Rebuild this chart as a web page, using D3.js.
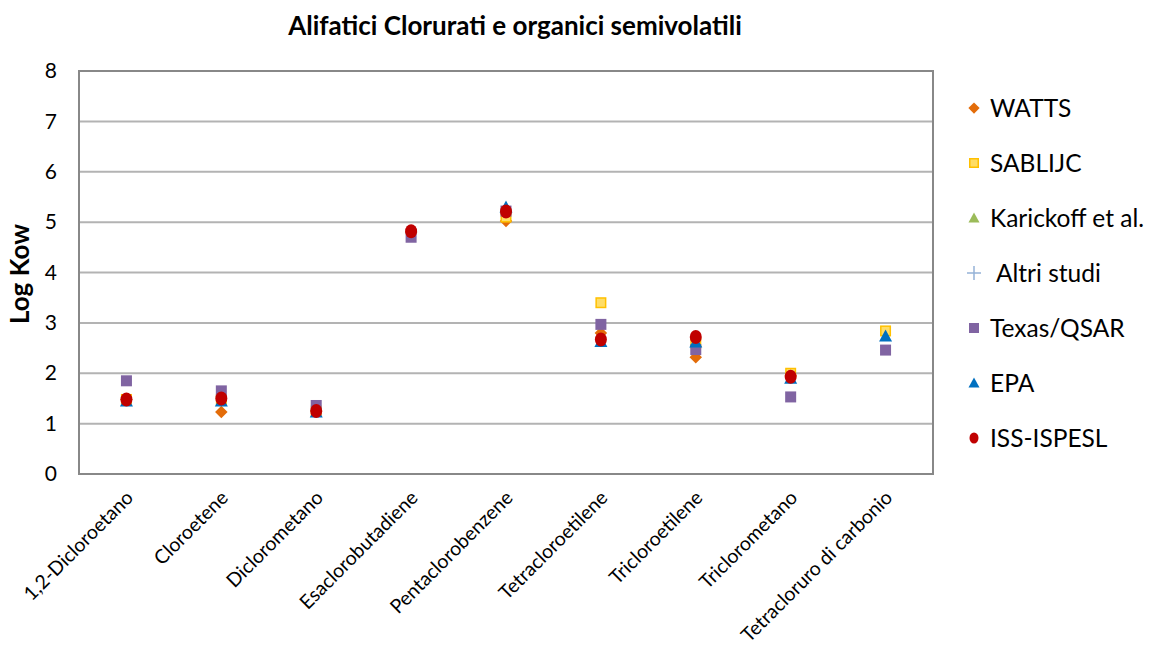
<!DOCTYPE html>
<html><head><meta charset="utf-8">
<script src="https://cdn.jsdelivr.net/npm/d3@7"></script>
<style>
body{margin:0;background:#fff;}
svg{display:block;}
</style></head>
<body><svg id="c" width="1152" height="646"></svg>
<script>
const title = "Alifatici Clorurati e organici semivolatili";
const yTitle = "Log  Kow";
const categories = ["1,2-Dicloroetano","Cloroetene","Diclorometano","Esaclorobutadiene","Pentaclorobenzene","Tetracloroetilene","Tricloroetilene","Triclorometano","Tetracloruro di carbonio"];
const yTicks = [0,1,2,3,4,5,6,7,8];
const seriesNames = ["WATTS","SABLIJC","Karickoff et al.","Altri studi","Texas/QSAR","EPA","ISS-ISPESL"];
const watts     = [1.48, 1.23, 1.25, 4.80, 5.02, 2.80, 2.32, 1.95, null];
const sablijc   = [1.48, 1.48, 1.25, null, 5.10, 3.40, 2.60, 2.00, 2.84];
const karickoff = [null, null, null, null, null, null, null, null, null];
const altri     = [null, null, null, null, null, null, null, null, null];
const texas     = [1.85, 1.65, 1.36, 4.70, 5.22, 2.97, 2.47, 1.53, 2.46];
const epa       = [1.45, 1.45, 1.23, null, 5.30, 2.63, 2.62, 1.90, 2.74];
const iss       = [1.48, 1.50, 1.25, 4.82, 5.21, 2.67, 2.72, 1.93, null];

const seriesData = [watts, sablijc, karickoff, altri, texas, epa, iss];
const styles = [
  {shape:"diamond", fill:"#E36C09", stroke:"none", size:10},
  {shape:"square", fill:"#FFDD66", stroke:"#FFC000", size:11},
  {shape:"triangle", fill:"#9BBB59", stroke:"none", size:13},
  {shape:"plus", fill:"none", stroke:"#95B3D7", size:14},
  {shape:"square", fill:"#8064A2", stroke:"none", size:11},
  {shape:"triangle", fill:"#0070C0", stroke:"none", size:13},
  {shape:"circle", fill:"#C00000", stroke:"none", size:13}
];

const svg = d3.select("#c");
const M = {left:79, right:933, top:71, bottom:474};
const x = d3.scaleBand().domain(categories).range([M.left, M.right]);
const y = d3.scaleLinear().domain([0,8]).range([M.bottom, M.top]);
const font = "Lato, 'Liberation Sans', sans-serif";

// gridlines
svg.append("g").selectAll("line").data(yTicks.filter(d=>d>0)).join("line")
  .attr("x1", M.left).attr("x2", M.right)
  .attr("y1", d=>y(d)).attr("y2", d=>y(d))
  .attr("stroke","#B3B3B3").attr("stroke-width",2);

// plot border
svg.append("rect").attr("x",M.left).attr("y",M.top)
  .attr("width",M.right-M.left).attr("height",M.bottom-M.top)
  .attr("fill","none").attr("stroke","#888").attr("stroke-width",2);

// y axis
const yAxis = d3.axisLeft(y).tickValues(yTicks).tickSize(0).tickPadding(22);
const ya = svg.append("g").attr("transform",`translate(${M.left},0)`).call(yAxis);
ya.select(".domain").remove();
ya.selectAll("text").attr("font-family",font).attr("font-size",21).attr("fill","#000");

// x axis
const xAxis = d3.axisBottom(x).tickSize(0).tickPadding(0);
const xa = svg.append("g").attr("transform",`translate(0,${M.bottom})`).call(xAxis);
xa.select(".domain").remove();
xa.selectAll("text")
  .attr("font-family",font).attr("font-size",19.5).attr("fill","#000")
  .attr("text-anchor","end").attr("dy",0).attr("y",0)
  .attr("transform","translate(8,25) rotate(-45)");

// titles
svg.append("text").attr("x",515).attr("y",35).attr("text-anchor","middle")
  .attr("font-family",font).attr("font-weight","bold").attr("font-size",26).text(title);
svg.append("text").attr("transform","translate(29,274) rotate(-90)").attr("text-anchor","middle")
  .attr("font-family",font).attr("font-weight","bold").attr("font-size",26).text(yTitle);

function drawMarker(g, st){
  const s = st.size;
  if(st.shape==="circle"){
    g.append("ellipse").attr("rx",s/2-0.5).attr("ry",s/2+0.5).attr("fill",st.fill);
  } else if(st.shape==="square"){
    const sw = st.stroke==="none"?0:1.5;
    g.append("rect").attr("x",-s/2+sw/2).attr("y",-s/2+sw/2).attr("width",s-sw).attr("height",s-sw)
      .attr("fill",st.fill).attr("stroke",st.stroke).attr("stroke-width",sw);
  } else if(st.shape==="diamond"){
    g.append("path").attr("d",`M0,${-s/1.6}L${s/1.6},0L0,${s/1.6}L${-s/1.6},0Z`).attr("fill",st.fill);
  } else if(st.shape==="triangle"){
    g.append("path").attr("d",`M0,${-s/2}L${s/2},${s/2-1}L${-s/2},${s/2-1}Z`).attr("fill",st.fill);
  } else if(st.shape==="plus"){
    g.append("path").attr("d",`M${-s/2},0H${s/2}M0,${-s/2}V${s/2}`).attr("stroke",st.stroke).attr("stroke-width",1.5).attr("fill","none");
  }
}

// marks
seriesData.forEach((vals,i)=>{
  const g = svg.append("g");
  vals.forEach((v,j)=>{
    if(v==null) return;
    const m = g.append("g").attr("transform",`translate(${x(categories[j])+x.bandwidth()/2},${y(v)})`);
    drawMarker(m, styles[i]);
  });
});

// legend
const legY = d3.scalePoint().domain(seriesNames).range([108,438]);
seriesNames.forEach((n,i)=>{
  const g = svg.append("g").attr("transform",`translate(974,${legY(n)})`);
  const st = Object.assign({}, styles[i]);
  if(st.shape==="circle"){st.size=10;}
  if(st.shape==="triangle"){st.size=11;}
  if(st.shape==="square"){st.size=10;}
  if(st.shape==="diamond"){st.size=9;}
  drawMarker(g, st);
  svg.append("text").attr("x", i===3?996:990).attr("y",legY(n)).attr("dy","0.36em")
    .attr("font-family",font).attr("font-size",24.5).attr("fill","#000").text(n);
});
</script></body></html>
